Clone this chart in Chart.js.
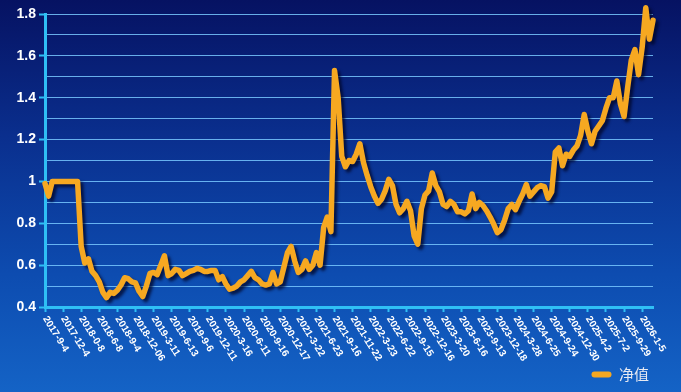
<!DOCTYPE html>
<html>
<head>
<meta charset="utf-8">
<script src="https://cdn.jsdelivr.net/npm/chart.js@4.4.1/dist/chart.umd.min.js"></script>
<style>
  html, body { margin: 0; padding: 0; }
  body {
    width: 681px; height: 392px; overflow: hidden;
    background: linear-gradient(to bottom, #061262 0%, #0a2f8e 35%, #0d4cb0 70%, #1463c6 100%);
  }
  #wrap { width: 681px; height: 392px; position: relative; }
</style>
</head>
<body>
<div id="wrap"><canvas id="c" width="681" height="392"></canvas></div>
<script>
// ---- data ----
const seriesName = '净值';

const tickDates = [
  '2017-9-4', '2017-12-4', '2018-0-8', '2018-6-8', '2018-9-4', '2018-12-06',
  '2019-3-11', '2019-6-13', '2019-9-6', '2019-12-11', '2020-3-16', '2020-6-11',
  '2020-9-16', '2020-12-17', '2021-3-22', '2021-6-23', '2021-9-16', '2021-11-22',
  '2022-3-23', '2022-6-22', '2022-9-15', '2022-12-16', '2023-3-20', '2023-6-16',
  '2023-9-13', '2023-12-18', '2024-3-28', '2024-6-25', '2024-9-24', '2024-12-30',
  '2025-4-2', '2025-7-2', '2025-9-29', '2026-1-5'
];

// samples between two labelled dates
const pointsPerTick = 5;

const navValues = [
  0.99, 0.93, 1.0, 1.0, 1.0, 1.0, 1.0, 1.0, 1.0, 1.0,
  0.69, 0.61, 0.63, 0.57, 0.55, 0.52, 0.47, 0.445, 0.47, 0.465,
  0.48, 0.505, 0.54, 0.535, 0.52, 0.515, 0.475, 0.45, 0.50, 0.56,
  0.565, 0.555, 0.60, 0.645, 0.55, 0.56, 0.58, 0.575, 0.55, 0.56,
  0.57, 0.575, 0.585, 0.58, 0.57, 0.57, 0.575, 0.575, 0.53, 0.545,
  0.51, 0.485, 0.49, 0.50, 0.52, 0.53, 0.55, 0.57, 0.54, 0.53,
  0.51, 0.505, 0.51, 0.565, 0.51, 0.52, 0.59, 0.66, 0.69, 0.62,
  0.565, 0.58, 0.62, 0.58, 0.60, 0.66, 0.60, 0.78, 0.83, 0.76,
  1.53, 1.40, 1.12, 1.07, 1.10, 1.095, 1.13, 1.18, 1.09, 1.03,
  0.975, 0.93, 0.895, 0.915, 0.955, 1.01, 0.98, 0.89, 0.85, 0.87,
  0.905, 0.86, 0.74, 0.70, 0.87, 0.935, 0.955, 1.04, 0.98, 0.95,
  0.89, 0.88, 0.905, 0.89, 0.855, 0.855, 0.845, 0.86, 0.94, 0.87,
  0.90, 0.885, 0.86, 0.83, 0.795, 0.755, 0.77, 0.815, 0.87, 0.89,
  0.865, 0.905, 0.94, 0.985, 0.93, 0.95, 0.97, 0.98, 0.975, 0.92,
  0.95, 1.14, 1.16, 1.075, 1.13, 1.12, 1.15, 1.17, 1.22, 1.32,
  1.24, 1.18, 1.24, 1.265, 1.29, 1.35, 1.40, 1.40, 1.48, 1.37,
  1.31, 1.45, 1.58, 1.63, 1.51, 1.64, 1.83, 1.68, 1.77
];

const yMin = 0.4, yMax = 1.8, yStep = 0.1;

// ---- styles ----
const lineColor = '#f6a821';
const axisColor = '#2fbff5';
const gridColor = 'rgba(120, 200, 255, 0.85)';
const PLOT_LEFT = 45, PLOT_TOP = 14, PLOT_BOTTOM = 307, PAD_RIGHT = 28;

const lineShadow = {
  id: 'lineShadow',
  beforeDatasetsDraw(chart) {
    const c = chart.ctx;
    c.save();
    c.shadowColor = 'rgba(0, 6, 40, 0.75)';
    c.shadowBlur = 3;
    c.shadowOffsetX = 3;
    c.shadowOffsetY = 3;
  },
  afterDatasetsDraw(chart) { chart.ctx.restore(); }
};

const rotatedXLabels = {
  id: 'rotatedXLabels',
  afterDraw(chart) {
    const sc = chart.scales.x, c = chart.ctx;
    c.save();
    c.font = 'bold 10px "Liberation Sans", Arial, sans-serif';
    c.fillStyle = '#ffffff';
    c.textAlign = 'left';
    c.textBaseline = 'middle';
    sc.ticks.forEach((t, k) => {
      const px = sc.getPixelForValue(t.value);
      c.save();
      c.translate(px, sc.top + 10);
      c.rotate(58 * Math.PI / 180);
      c.fillText(tickDates[k], 0, 0);
      c.restore();
    });
    c.restore();
  }
};

const points = navValues.map((v, i) => ({ x: i, y: v }));

new Chart(document.getElementById('c'), {
  type: 'line',
  data: {
    datasets: [{
      label: seriesName,
      data: points,
      borderColor: lineColor,
      backgroundColor: lineColor,
      borderWidth: 5.5,
      borderJoinStyle: 'round',
      borderCapStyle: 'round',
      pointRadius: 0,
      tension: 0,
      clip: false
    }]
  },
  options: {
    responsive: false,
    devicePixelRatio: 1,
    animation: false,
    layout: { padding: { left: 0, right: PAD_RIGHT, top: PLOT_TOP, bottom: 0 } },
    plugins: {
      tooltip: { enabled: false },
      legend: {
        display: true,
        position: 'bottom',
        align: 'end',
        labels: {
          color: '#e6e9f2',
          font: { family: '"Noto Sans CJK SC", "Noto Sans", sans-serif', size: 15 },
          boxWidth: 20,
          boxHeight: 6,
          padding: 4,
          useBorderRadius: true,
          borderRadius: 3,
          generateLabels(chart) {
            const items = Chart.defaults.plugins.legend.labels.generateLabels(chart);
            items.forEach(it => { it.lineWidth = 0; it.fillStyle = lineColor; it.strokeStyle = lineColor; });
            return items;
          }
        }
      }
    },
    scales: {
      x: {
        type: 'linear',
        min: 0,
        max: navValues.length - 1,
        afterBuildTicks(scale) {
          scale.ticks = tickDates.map((d, k) => ({ value: k * pointsPerTick }));
        },
        afterFit(scale) {
          const lg = scale.chart.legend ? scale.chart.legend.height : 0;
          scale.height = 392 - PLOT_BOTTOM - lg;
        },
        ticks: { display: false, autoSkip: false },
        grid: {
          display: true,
          drawOnChartArea: false,
          drawTicks: true,
          tickLength: 5,
          tickWidth: 2,
          tickColor: axisColor
        },
        border: { display: true, color: axisColor, width: 3 }
      },
      y: {
        min: yMin,
        max: yMax,
        afterFit(scale) { scale.width = PLOT_LEFT; },
        ticks: {
          stepSize: yStep,
          autoSkip: false,
          color: '#ffffff',
          padding: 3,
          font: { family: '"Liberation Sans", Arial, sans-serif', size: 14, weight: 'bold' },
          callback(value) {
            const tenths = Math.round(value * 10);
            if (tenths % 2 !== 0) return '';
            return String(Number((tenths / 10).toFixed(1)));
          }
        },
        grid: {
          color: gridColor,
          lineWidth: 1,
          tickLength: 6,
          tickWidth: 2,
          tickColor(ctx) {
            const tenths = Math.round(ctx.tick.value * 10);
            return tenths % 2 === 0 ? axisColor : 'rgba(0,0,0,0)';
          }
        },
        border: { display: true, color: axisColor, width: 3 }
      }
    }
  },
  plugins: [lineShadow, rotatedXLabels]
});
</script>
</body>
</html>
